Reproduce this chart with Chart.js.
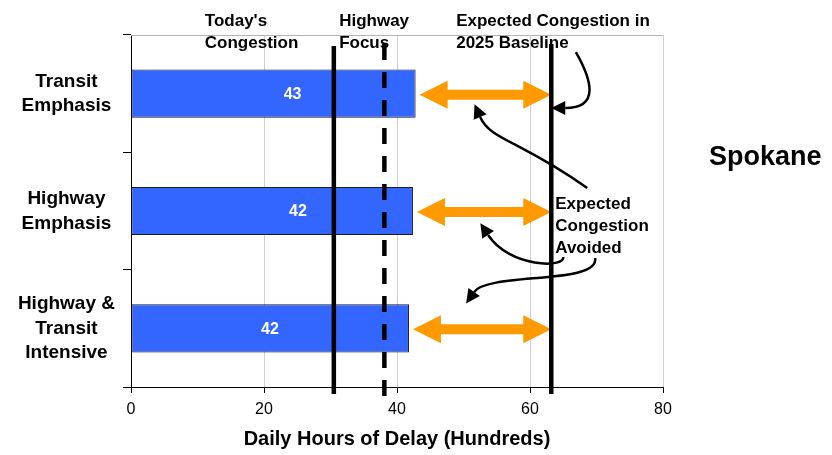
<!DOCTYPE html>
<html>
<head>
<meta charset="utf-8">
<script src="https://cdn.jsdelivr.net/npm/chart.js@4/dist/chart.umd.min.js"></script>
<style>
  html, body { margin: 0; padding: 0; background: #fff; }
  #wrap { width: 832px; height: 455px; }
</style>
</head>
<body>
<div id="wrap"><canvas id="delay-canvas" width="832" height="455"></canvas></div>
<script>
const FONT = '"Liberation Sans", Arial, Helvetica, sans-serif'

const categories = [['Transit', 'Emphasis'], ['Highway', 'Emphasis'], ['Highway &', 'Transit', 'Intensive']]
const delayHours = [42.8, 42.4, 41.8]
const valueLabelAt = [24.3, 25.1, 20.9]
const xTickValues = [0, 20, 40, 60, 80]
const todaysCongestion = 30.5
const highwayFocus = 38.1
const baseline2025 = 63.2

// curved pointer arrows, as [delay, category index] : start, control, control, end
const pointers = [
  [[66.9, -0.355], [69.3, -0.117], [70.5, 0.122], [65.3, 0.122]],
  [[68.6, 0.804], [58.5, 0.395], [54.0, 0.395], [52.5, 0.199]],
  [[65.0, 1.392], [65.3, 1.486], [57.0, 1.486], [53.7, 1.204]],
  [[69.8, 1.400], [70.5, 1.631], [53.7, 1.520], [51.6, 1.690]]
]

Chart.defaults.color = '#000'
Chart.defaults.font.family = FONT

function doubleArrow(ctx, x1, x2, yc){
  const hl = 28, hh = 14, sh = 5
  ctx.beginPath()
  ctx.moveTo(x1, yc)
  ctx.lineTo(x1 + hl, yc - hh)
  ctx.lineTo(x1 + hl, yc - sh)
  ctx.lineTo(x2 - hl, yc - sh)
  ctx.lineTo(x2 - hl, yc - hh)
  ctx.lineTo(x2, yc)
  ctx.lineTo(x2 - hl, yc + hh)
  ctx.lineTo(x2 - hl, yc + sh)
  ctx.lineTo(x1 + hl, yc + sh)
  ctx.lineTo(x1 + hl, yc + hh)
  ctx.closePath()
  ctx.fill()
}

function pointer(ctx, pts){
  const [p0, p1, p2, p3] = pts
  ctx.beginPath()
  ctx.moveTo(p0[0], p0[1])
  ctx.bezierCurveTo(p1[0], p1[1], p2[0], p2[1], p3[0], p3[1])
  ctx.stroke()
  const dx = p3[0] - p2[0], dy = p3[1] - p2[1]
  const len = Math.hypot(dx, dy)
  const ux = dx / len, uy = dy / len
  ctx.beginPath()
  ctx.moveTo(p3[0] + ux * 14, p3[1] + uy * 14)
  ctx.lineTo(p3[0] - uy * 7, p3[1] + ux * 7)
  ctx.lineTo(p3[0] + uy * 7, p3[1] - ux * 7)
  ctx.closePath()
  ctx.fill()
}

function vline(ctx, x, top, bottom, dashed){
  ctx.save()
  ctx.strokeStyle = '#000'
  ctx.lineWidth = 4.5
  if(dashed) ctx.setLineDash([16, 12])
  ctx.beginPath()
  ctx.moveTo(x, top)
  ctx.lineTo(x, bottom)
  ctx.stroke()
  ctx.restore()
}

const overlay = {
  id: 'overlay',
  afterDatasetsDraw(chart){
    const {ctx, chartArea: area, scales: {x, y}} = chart
    ctx.save()

    // plot frame top
    ctx.strokeStyle = '#b4b4b4'
    ctx.lineWidth = 1
    ctx.beginPath()
    ctx.moveTo(area.left, area.top + 0.5)
    ctx.lineTo(area.right, area.top + 0.5)
    ctx.stroke()

    // values inside bars
    ctx.fillStyle = '#fff'
    ctx.font = 'bold 16px ' + FONT
    ctx.textAlign = 'center'
    ctx.textBaseline = 'middle'
    delayHours.forEach((v, i) => {
      ctx.fillText(Math.round(v), x.getPixelForValue(valueLabelAt[i]), y.getPixelForValue(i) + 1)
    })

    // congestion avoided arrows
    ctx.fillStyle = '#FF9900'
    delayHours.forEach((v, i) => {
      doubleArrow(ctx, x.getPixelForValue(v + 0.6), x.getPixelForValue(baseline2025), y.getPixelForValue(i) + 1)
    })

    // reference lines
    const top = area.top + 9, bottom = area.bottom + 7
    vline(ctx, x.getPixelForValue(todaysCongestion), top + 2, bottom, false)
    vline(ctx, x.getPixelForValue(highwayFocus), top, bottom + 6, true)
    vline(ctx, x.getPixelForValue(baseline2025), top, bottom, false)

    // curved pointers
    ctx.strokeStyle = '#000'
    ctx.fillStyle = '#000'
    ctx.lineWidth = 2.5
    pointers.forEach(p => {
      pointer(ctx, p.map(([dv, ci]) => [x.getPixelForValue(dv), y.getPixelForValue(ci)]))
    })

    // annotation text
    ctx.fillStyle = '#000'
    ctx.font = 'bold 17px ' + FONT
    ctx.textAlign = 'left'
    ctx.textBaseline = 'alphabetic'
    const t1 = area.top - 9, t2 = area.top + 13
    ctx.fillText("Today's", x.getPixelForValue(11.1), t1)
    ctx.fillText('Congestion', x.getPixelForValue(11.1), t2)
    ctx.fillText('Highway', x.getPixelForValue(31.3), t1)
    ctx.fillText('Focus', x.getPixelForValue(31.3), t2)
    ctx.fillText('Expected Congestion in', x.getPixelForValue(48.9), t1)
    ctx.fillText('2025 Baseline', x.getPixelForValue(48.9), t2)
    ctx.fillText('Expected', x.getPixelForValue(63.8), 209)
    ctx.fillText('Congestion', x.getPixelForValue(63.8), 231)
    ctx.fillText('Avoided', x.getPixelForValue(63.8), 253)

    ctx.font = 'bold 27px ' + FONT
    ctx.fillText('Spokane', 709, 165)
    ctx.restore()
  }
}

new Chart(document.getElementById('delay-canvas'), {
  type: 'bar',
  data: {
    labels: categories,
    datasets: [{
      data: delayHours,
      backgroundColor: '#3366FF',
      borderColor: '#1a1a1a',
      borderWidth: 1,
      borderSkipped: false,
      barPercentage: 0.41,
      categoryPercentage: 1.0
    }]
  },
  options: {
    indexAxis: 'y',
    responsive: false,
    animation: false,
    layout: {
      padding: {top: 35, right: 169, left: 0, bottom: 0}
    },
    plugins: {
      legend: {display: false},
      tooltip: {enabled: false},
      title: {display: false}
    },
    scales: {
      x: {
        min: 0,
        max: 80,
        afterBuildTicks: scale => { scale.ticks = xTickValues.map(v => ({value: v})) },
        afterFit: scale => { scale.height = 68 },
        grid: {
          color: '#cfcfcf',
          tickColor: '#000',
          tickLength: 6
        },
        border: {color: '#000', width: 1},
        ticks: {
          font: {size: 16},
          padding: 7
        },
        title: {
          display: true,
          text: 'Daily Hours of Delay (Hundreds)',
          font: {size: 20, weight: 'bold'},
          padding: {top: 4, bottom: 4}
        }
      },
      y: {
        afterFit: scale => {
          scale.width = 131
          scale.paddingTop = 0
          scale.paddingBottom = 0
        },
        grid: {
          offset: true,
          drawOnChartArea: false,
          tickColor: '#000',
          tickLength: 8
        },
        border: {color: '#000', width: 1},
        ticks: {
          crossAlign: 'center',
          padding: 8,
          font: {size: 19, weight: 'bold', lineHeight: 1.3}
        }
      }
    }
  },
  plugins: [overlay]
})
</script>
</body>
</html>
